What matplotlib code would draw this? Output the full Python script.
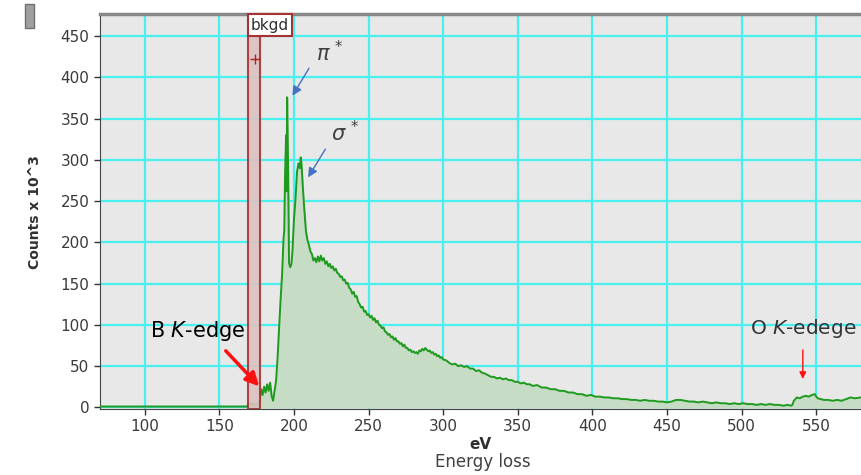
import matplotlib.pyplot as plt
from matplotlib.patches import Rectangle
import numpy as np

# EELS spectrum (eV, counts x 10^3)
energy = [70, 100, 130, 160, 168, 169, 170, 171, 172, 173, 174, 175, 176, 177,
          178, 179, 180, 181, 182, 183, 184, 185, 186, 187, 188, 189, 190, 191,
          192, 193, 193.5, 194, 194.7, 195, 195.4, 196, 196.7, 197.5, 198.3, 199,
          200, 201, 202, 203, 204, 204.5, 205,
          206, 207, 208, 209, 210, 211, 212, 213, 214, 215, 216, 217, 218, 219,
          220, 221, 222, 223, 224, 225, 226, 227, 228, 229, 230, 231, 232, 233,
          234, 235, 236, 237, 238, 239, 240, 241, 242, 243, 244, 245, 246, 247,
          248, 249, 250, 251, 252, 253, 254, 255, 256, 257, 258, 259, 260, 261,
          262, 263, 264, 265, 266, 267, 268, 269, 270, 271, 272, 273, 274, 275,
          276, 277, 278, 279, 280, 281, 282, 283, 284, 285, 286, 287, 288, 289,
          290, 291, 292, 293, 294, 295, 296, 297, 298, 299, 300, 302, 304, 306,
          308, 310, 312, 314, 316, 318, 320, 322, 324, 326, 328, 330, 332, 334,
          336, 338, 340, 342, 344, 346, 348, 350, 352, 354, 356, 358, 360, 363,
          366, 369, 372, 375, 378, 381, 384, 387, 390, 393, 396, 399, 402, 405,
          408, 411, 414, 417, 420, 423, 426, 429, 432, 435, 438, 441, 444, 447,
          450, 453, 456, 459, 462, 465, 468, 471, 474, 477, 480, 483, 486, 489,
          492, 495, 498, 501, 504, 507, 510, 513, 516, 519, 522, 525, 528, 531,
          533, 534, 535, 537, 539, 541, 543, 545, 547, 549, 550, 551, 553, 555,
          558, 561, 564, 567, 570, 573, 576, 580]
counts = [1, 1, 1, 1, 1, 2, 5, 3, 6, 2, 4, 3, 5, 8,
          22, 15, 25, 18, 28, 20, 30, 14, 8, 20, 32, 60, 95, 130,
          160, 205, 215, 280, 330, 262, 376, 300, 175, 170, 174, 190,
          228, 252, 285, 296, 290, 303, 296,
          265, 238, 214, 203, 197, 189, 186, 178, 181, 176, 183, 177, 184, 178,
          181, 174, 177, 171, 174, 169, 171, 166, 168, 163, 162, 158, 159, 154,
          155, 150, 151, 145, 143, 138, 140, 134, 135, 128, 125, 121, 122, 116,
          117, 112, 113, 109, 111, 106, 108, 103, 105, 100, 99, 96, 97, 92,
          91, 88, 89, 85, 86, 82, 84, 80, 80, 77, 78, 74, 76, 72,
          72, 69, 70, 67, 68, 66, 67, 65, 69, 68, 71, 69, 72, 70,
          68, 69, 66, 67, 64, 65, 62, 63, 60, 61, 58, 57, 54, 52,
          53, 50, 51, 49, 50, 47, 47, 44, 45, 42, 41, 39, 37, 37,
          35, 36, 34, 35, 33, 33, 31, 31, 29, 30, 28, 28, 26, 27,
          24, 24, 22, 22, 20, 20, 18, 18, 16, 16, 14, 15, 13, 13,
          12, 12, 11, 11, 10, 10, 9, 9, 8, 9, 8, 8, 7, 7,
          6, 7, 9, 9, 8, 7, 7, 6, 7, 6, 5, 6, 5, 5,
          4, 5, 4, 5, 4, 4, 3, 4, 3, 4, 3, 3, 2, 3,
          2, 3, 8, 12, 11, 13, 14, 13, 15, 16, 13, 11, 10, 9,
          9, 8, 9, 8, 10, 12, 11, 12]

xticks = [100, 150, 200, 250, 300, 350, 400, 450, 500, 550]
yticks = [0, 50, 100, 150, 200, 250, 300, 350, 400, 450]
bkgd_window = (169, 177)

fig = plt.figure(figsize=(8.61, 4.75), dpi=100)
ax = fig.add_axes([100 / 861, 1 - 409 / 475, 761 / 861, 395 / 475])
ax.set_facecolor('#e8e8e8')

energy = np.array(energy)
counts = np.array(counts)

ax.grid(True, color='#48f0f0', linewidth=1.6, zorder=0)
ax.set_axisbelow(True)

m = energy >= bkgd_window[0]
ax.fill_between(energy[m], counts[m], 0, color='#c6dcc4', zorder=1)
ax.plot(energy, counts, color='#1e9a1e', linewidth=1.4, zorder=3)

# background window + its label box
ax.add_patch(Rectangle((bkgd_window[0], -2), bkgd_window[1] - bkgd_window[0], 452,
                       facecolor='#dcc2c2', edgecolor='#a83232', linewidth=1.5,
                       alpha=0.9, zorder=4))
ax.add_patch(Rectangle((bkgd_window[0], 450), 30, 27, facecolor='white',
                       edgecolor='#a83232', linewidth=1.5, zorder=5, clip_on=False))
ax.text(bkgd_window[0] + 15, 463, 'bkgd', ha='center', va='center',
        fontsize=11, color='#303030', zorder=6)
ax.plot([173.7], [423], marker='+', color='#b02020', markersize=7, zorder=5)

ax.set_xlim(70, 580)
ax.set_ylim(-2, 477)
ax.set_xticks(xticks)
ax.set_yticks(yticks)
ax.tick_params(labelsize=11, colors='#333333', length=4, width=1, labelcolor='#3a3a3a')
ax.spines['right'].set_visible(False)
ax.spines['top'].set_color('#888888')
ax.spines['top'].set_linewidth(2.5)
ax.spines['left'].set_color('#444444')
ax.spines['bottom'].set_color('#444444')

ax.set_xlabel('eV', fontsize=11, fontweight='bold', color='#303030', labelpad=2)
fig.text(35 / 861, 1 - 212 / 475, 'Counts x 10^3', rotation=90, ha='center', va='center',
         fontsize=10, fontweight='bold', color='#303030')
fig.text(483 / 861, 1 - 462 / 475, 'Energy loss', ha='center', va='center',
         fontsize=12, color='#404040')

# small grey handle top-left
fig.patches.append(Rectangle((25 / 861, 1 - 28 / 475), 9 / 861, 24 / 475,
                             transform=fig.transFigure, facecolor='#a0a0a0',
                             edgecolor='#707070', linewidth=1))

# peak labels
ax.annotate('', xy=(198, 375), xytext=(211, 414),
            arrowprops=dict(arrowstyle='-|>', color='#4472c4', lw=1, mutation_scale=14))
ax.text(224, 430, r'$\pi^{\,*}$', fontsize=15, color='#404040', ha='center', va='center')
ax.annotate('', xy=(208.5, 276), xytext=(222, 316),
            arrowprops=dict(arrowstyle='-|>', color='#4472c4', lw=1, mutation_scale=14))
ax.text(234, 333, r'$\sigma^{\,*}$', fontsize=15, color='#404040', ha='center', va='center')

ax.annotate('', xy=(178, 23), xytext=(153, 71), zorder=7,
            arrowprops=dict(arrowstyle='-|>', color='#ff1010', lw=2.5, mutation_scale=20))
ax.text(135.5, 93, 'B $\\mathit{K}$-edge', fontsize=15, color='black', ha='center', va='center',
        zorder=7)

ax.annotate('', xy=(541, 31), xytext=(541, 73),
            arrowprops=dict(arrowstyle='-|>', color='#ff1010', lw=1, mutation_scale=10))
ax.text(541, 96, 'O $\\mathit{K}$-edege', fontsize=14.5, color='#333333', ha='center', va='center')

fig.savefig('out.png', dpi=100)
